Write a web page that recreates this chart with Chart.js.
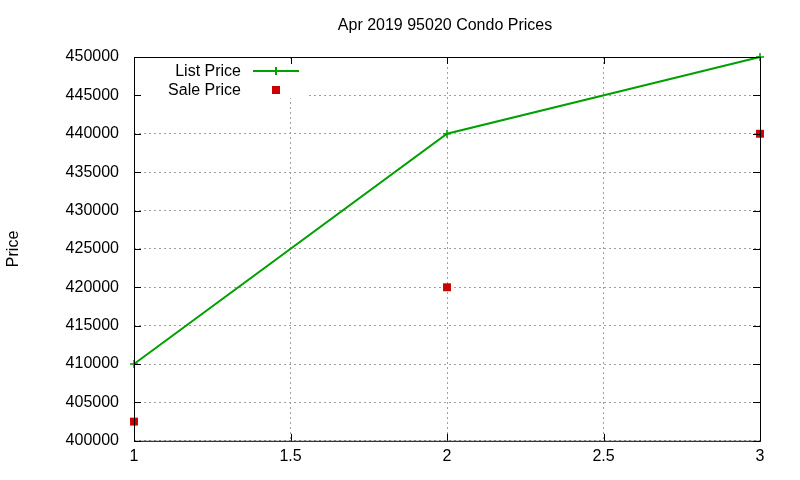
<!DOCTYPE html>
<html>
<head>
<meta charset="utf-8">
<script src="https://cdn.jsdelivr.net/npm/chart.js@4"></script>
<style>
  html, body { margin: 0; padding: 0; background: #fff; }
  #wrap { width: 800px; height: 480px; }
</style>
</head>
<body>
<div id="wrap"><canvas id="priceChart" width="800" height="480"></canvas></div>
<script>
// data
const chartTitle = 'Apr 2019 95020 Condo Prices';
const xValues = [1, 2, 3];
const listPrices = [410000, 440000, 450000];
const salePrices = [402500, 420000, 440000];
const xTickLabels = ["1", "1.5", "2", "2.5", "3"];
const yTickLabels = ["400000", "405000", "410000", "415000", "420000", "425000", "430000", "435000", "440000", "445000", "450000"];

const FONT = "'Liberation Sans', Arial, sans-serif";

// gnuplot-like frame, inward ticks, title and key
const gnuplotFrame = {
  id: 'gnuplotFrame',
  beforeDatasetsDraw(chart) {
    const { ctx, chartArea: a } = chart;
    // key area hides the grid
    ctx.save();
    ctx.fillStyle = '#fff';
    ctx.fillRect(a.left + 10, a.top + 4, 162, 37);
    ctx.restore();
  },
  afterDatasetsDraw(chart) {
    const { ctx, chartArea: a, scales } = chart;
    ctx.save();
    ctx.strokeStyle = '#000';
    ctx.lineWidth = 1;
    ctx.strokeRect(a.left + 0.5, a.top + 0.5, a.right - a.left, a.bottom - a.top);
    ctx.beginPath();
    scales.x.ticks.forEach(t => {
      const px = Math.round(scales.x.getPixelForValue(t.value)) + 0.5;
      ctx.moveTo(px, a.bottom); ctx.lineTo(px, a.bottom - 7);
      ctx.moveTo(px, a.top); ctx.lineTo(px, a.top + 7);
    });
    scales.y.ticks.forEach(t => {
      const py = Math.round(scales.y.getPixelForValue(t.value)) + 0.5;
      ctx.moveTo(a.left, py); ctx.lineTo(a.left + 7, py);
      ctx.moveTo(a.right, py); ctx.lineTo(a.right - 7, py);
    });
    ctx.stroke();

    // title over the plot area
    ctx.font = '16px ' + FONT;
    ctx.fillStyle = '#000';
    ctx.textAlign = 'center';
    ctx.textBaseline = 'middle';
    ctx.fillText(chartTitle, (a.left + a.right) / 2 - 2, 26);

    // key
    const ds = chart.data.datasets;
    ctx.textAlign = 'right';
    const textRight = a.left + 107;
    const sampleX = a.left + 142;
    const row0 = a.top + 14;
    ctx.fillText(ds[0].label, textRight, row0 + 1);
    ctx.fillText(ds[1].label, textRight, row0 + 20);
    ctx.strokeStyle = ds[0].borderColor;
    ctx.lineWidth = 2;
    ctx.beginPath();
    ctx.moveTo(sampleX - 23, row0); ctx.lineTo(sampleX + 23, row0);
    ctx.moveTo(sampleX, row0 - 4); ctx.lineTo(sampleX, row0 + 4);
    ctx.stroke();
    ctx.fillStyle = ds[1].backgroundColor;
    ctx.fillRect(sampleX - 4, row0 + 15, 8, 8);
    ctx.restore();
  }
};

const ctx = document.getElementById('priceChart').getContext('2d');
new Chart(ctx, {
  type: 'scatter',
  data: {
    datasets: [
      {
        label: 'List Price',
        data: xValues.map((x, i) => ({ x: x, y: listPrices[i] })),
        showLine: true,
        borderColor: '#00a000',
        backgroundColor: '#00a000',
        borderWidth: 2,
        pointStyle: 'cross',
        pointRadius: 4,
        pointBorderWidth: 1.5,
        tension: 0,
        clip: false
      },
      {
        label: 'Sale Price',
        data: xValues.map((x, i) => ({ x: x, y: salePrices[i] })),
        showLine: false,
        borderColor: '#cc0000',
        backgroundColor: '#cc0000',
        pointStyle: 'rect',
        pointRadius: 5.6,
        pointBorderWidth: 0,
        clip: false
      }
    ]
  },
  options: {
    responsive: false,
    animation: false,
    layout: { padding: { left: 0, right: 40, top: 57, bottom: 8 } },
    plugins: {
      legend: { display: false },
      tooltip: { enabled: false },
      title: { display: false }
    },
    scales: {
      x: {
        type: 'linear',
        min: 1,
        max: 3,
        ticks: {
          stepSize: 0.5,
          color: '#000',
          padding: 6,
          font: { family: FONT, size: 16 },
          callback: (v, i) => xTickLabels[i]
        },
        grid: {
          color: '#a0a0a0',
          lineWidth: 1,
          drawTicks: false
        },
        border: { display: false, dash: [2, 3] }
      },
      y: {
        type: 'linear',
        min: 400000,
        max: 450000,
        afterFit: s => { s.width = 134; },
        ticks: {
          stepSize: 5000,
          color: '#000',
          padding: 15,
          font: { family: FONT, size: 16 },
          callback: (v, i) => yTickLabels[i]
        },
        grid: {
          color: '#a0a0a0',
          lineWidth: 1,
          drawTicks: false
        },
        border: { display: false, dash: [2, 3] },
        title: {
          display: true,
          text: 'Price',
          color: '#000',
          font: { family: FONT, size: 16 },
          padding: { top: 4, bottom: 0 }
        }
      }
    }
  },
  plugins: [gnuplotFrame]
});
</script>
</body>
</html>
